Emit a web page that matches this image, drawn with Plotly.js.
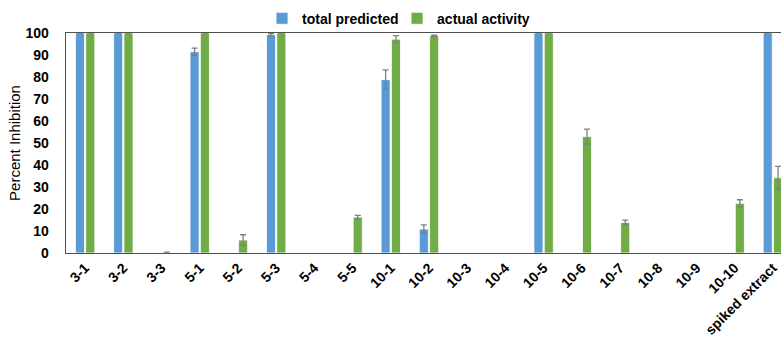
<!DOCTYPE html>
<html>
<head>
<meta charset="utf-8">
<script src="https://cdn.plot.ly/plotly-3.0.1.min.js"></script>
<style>
  html, body { margin: 0; padding: 0; background: #fff; overflow: hidden; }
  #chart { width: 800px; height: 343px; }
</style>
</head>
<body>
<div id="chart"></div>
<script>
// Sample fractions
const categories = ["3-1", "3-2", "3-3", "5-1", "5-2", "5-3", "5-4", "5-5", "10-1", "10-2",
                    "10-3", "10-4", "10-5", "10-6", "10-7", "10-8", "10-9", "10-10", "spiked extract"];

// Percent inhibition, predicted total vs. measured
const totalPredicted    = [100, 100, 0, 91.5, 0, 99.2, 0, 0, 78.8, 10.9, 0, 0, 100, 0, 0, 0, 0, 0, 100];
const totalPredictedErr = [0, 0, 0, 1.6, 0, 0.5, 0, 0, 4.4, 1.9, 0, 0, 0, 0, 0, 0, 0, 0, 0];
const actualActivity    = [100, 100, 0, 100, 5.9, 100, 0, 16.3, 97.2, 98.7, 0, 0, 100, 52.9, 13.9, 0, 0, 22.6, 34.2];
const actualActivityErr = [0, 0, 0.4, 0, 2.4, 0, 0, 0.8, 1.6, 0.3, 0, 0, 0, 3.4, 1.0, 0, 0, 1.6, 5.2];

const yTicks = [0, 10, 20, 30, 40, 50, 60, 70, 80, 90, 100];

const FONT = "'Liberation Sans', Arial, sans-serif";
const errStyle = { color: "#7f7f7f", thickness: 1.3, width: 3 };

// Empty samples (no value and no spread) get no bar and no error cap
const barY = (vals, errs) => vals.map((v, i) => (v === 0 && errs[i] === 0 ? null : v));
const errY = errs => errs.map(e => (e === 0 ? null : e));

const traces = [
  {
    type: "bar",
    name: "total predicted",
    legend: "legend",
    x: categories,
    y: barY(totalPredicted, totalPredictedErr),
    marker: { color: "#5B9BD5", line: { color: "#ffffff", width: 0.8 } },
    error_y: Object.assign({ type: "data", array: errY(totalPredictedErr), visible: true }, errStyle)
  },
  {
    type: "bar",
    name: "actual activity",
    legend: "legend2",
    x: categories,
    y: barY(actualActivity, actualActivityErr),
    marker: { color: "#70AD47", line: { color: "#ffffff", width: 0.8 } },
    error_y: Object.assign({ type: "data", array: errY(actualActivityErr), visible: true }, errStyle)
  }
];

const legendBase = {
  orientation: "h",
  xanchor: "left",
  yanchor: "middle",
  y: 1.065,
  bgcolor: "rgba(0,0,0,0)",
  font: { size: 14, family: FONT, weight: "bold", color: "#000" },
  itemwidth: 30
};

const layout = {
  width: 800,
  height: 343,
  margin: { l: 66, r: 8, t: 33, b: 90, autoexpand: false },
  paper_bgcolor: "#ffffff",
  plot_bgcolor: "#ffffff",
  font: { family: FONT, color: "#000000" },
  barmode: "group",
  bargap: 0.46,
  bargroupgap: 0.12,
  showlegend: true,
  legend: Object.assign({}, legendBase, { x: 0.27 }),
  legend2: Object.assign({}, legendBase, { x: 0.456 }),
  xaxis: {
    type: "category",
    range: [-0.5, 18.5],
    tickangle: -45,
    tickfont: { size: 14, family: FONT, weight: "bold", color: "#000" },
    showline: true,
    linecolor: "#505050",
    linewidth: 1.3,
    mirror: true,
    ticks: "",
    showgrid: false,
    zeroline: false
  },
  yaxis: {
    range: [0, 100],
    tickvals: yTicks,
    ticktext: yTicks.map(String),
    tickfont: { size: 14, family: FONT, weight: "bold", color: "#000" },
    showline: true,
    linecolor: "#505050",
    linewidth: 1.3,
    ticks: "",
    ticklabelstandoff: 13,
    showgrid: false,
    zeroline: false,
    title: { text: "Percent Inhibition", font: { size: 15, family: FONT, color: "#000" }, standoff: 1 }
  }
};

Plotly.newPlot("chart", traces, layout, { displayModeBar: false, staticPlot: true });
</script>
</body>
</html>
